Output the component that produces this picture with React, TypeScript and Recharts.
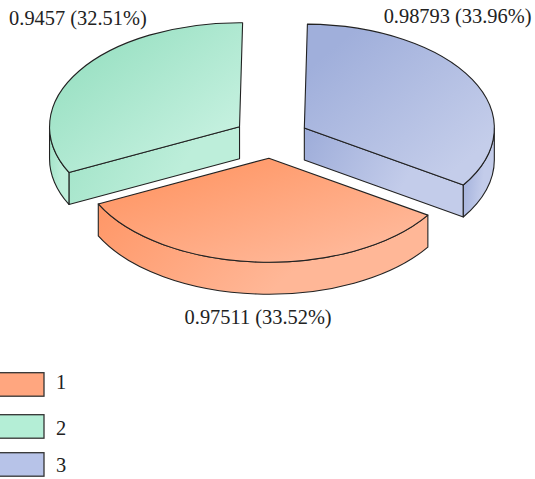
import React from "react";
import { PieChart, Pie, Legend } from "recharts";

const categories = ["1", "2", "3"];
const sliceValues = [0.97511, 0.9457, 0.98793];
const legendColors = ["#FFA67F", "#B4EED6", "#B7C3E8"];
const topShades = [
  ["#FF9766", "#FFB899"],
  ["#98E0C2", "#C6F1E0"],
  ["#A0AFDB", "#C4CDEA"],
];
const wallShades = [
  ["#FF9666", "#FFB797"],
  ["#A0E3C7", "#BDEEDA"],
  ["#9DACD9", "#C3CCEA"],
];

const rows = categories.map((name, i) => ({
  name,
  value: sliceValues[i],
  fill: legendColors[i],
  tone: i,
}));

// Perspective of the tilted disc
const TILT = 0.5474;
const DEPTH = 32;
const EXPLODE = 37.5;
const INK = "#222222";
const FONT = '"Liberation Serif", serif';

const rad = (deg: number) => (deg * Math.PI) / 180;

// Text anchor nudges from the outer rim of each slice, in label order
const labelNudge = [
  [1, 62],
  [-1.2, -46],
  [-14.6, -56],
];
// Rows of the key: top edge of each swatch and baseline of each caption
const keyRows = [372.7, 414.7, 452.7];
const keyBaselines = [389, 435, 472];

function TiltedSlice(props: any) {
  const { cx, cy, outerRadius: r, startAngle, endAngle, midAngle, payload } = props;
  const tone = payload?.tone ?? props.tone ?? 0;
  const rx = r;
  const ry = r * TILT;
  const ox = cx + EXPLODE * Math.cos(rad(midAngle));
  const oy = cy - EXPLODE * TILT * Math.sin(rad(midAngle));
  const rim = (a: number, drop = 0): [number, number] => [
    ox + rx * Math.cos(rad(a)),
    oy - ry * Math.sin(rad(a)) + drop,
  ];
  const arc = (a: number, clockwise: boolean, drop = 0) => {
    const [x, y] = rim(a, drop);
    return `A${rx} ${ry} 0 0 ${clockwise ? 1 : 0} ${x} ${y}`;
  };
  // Split long sweeps so each arc command stays under 180 degrees
  const sweep = (from: number, to: number, clockwise: boolean, drop = 0) => {
    const mid = (from + to) / 2;
    return `${arc(mid, clockwise, drop)} ${arc(to, clockwise, drop)}`;
  };

  const hi = Math.max(startAngle, endAngle);
  const lo = Math.min(startAngle, endAngle);
  const topId = `slice-top-${tone}`;
  const wallId = `slice-wall-${tone}`;

  const walls: string[] = [];
  // Flat cut faces that turn toward the viewer
  const cutFace = (a: number) => {
    const [x, y] = rim(a);
    walls.push(`M${ox} ${oy} L${x} ${y} L${x} ${y + DEPTH} L${ox} ${oy + DEPTH} Z`);
  };
  if (Math.cos(rad(hi)) < -0.1) cutFace(hi);
  if (Math.cos(rad(lo)) > 0.1) cutFace(lo);
  // Curved outer wall on the near half of the disc
  for (let k = -2; k <= 1; k += 1) {
    const a = Math.max(lo, -180 + 360 * k);
    const b = Math.min(hi, 360 * k);
    if (a < b) {
      const [sx, sy] = rim(b);
      const [ex, ey] = rim(a, DEPTH);
      walls.push(
        `M${sx} ${sy} ${sweep(b, a, true)} L${ex} ${ey} ${sweep(a, b, false, DEPTH)} Z`
      );
    }
  }

  const [hx, hy] = rim(hi);
  const top = `M${ox} ${oy} L${hx} ${hy} ${sweep(hi, lo, true)} Z`;

  return (
    <g>
      <defs>
        <linearGradient id={topId} x1="0" y1="0" x2="1" y2="1">
          <stop offset="0.15" stopColor={topShades[tone][0]} />
          <stop offset="0.85" stopColor={topShades[tone][1]} />
        </linearGradient>
        <linearGradient id={wallId} x1="0" y1="0" x2="1" y2="0.3">
          <stop offset="0" stopColor={wallShades[tone][0]} />
          <stop offset="0.75" stopColor={wallShades[tone][1]} />
        </linearGradient>
      </defs>
      {walls.map((d) => (
        <path key={d} d={d} fill={`url(#${wallId})`} stroke={INK} strokeWidth={1.1} strokeLinejoin="round" />
      ))}
      <path d={top} fill={`url(#${topId})`} stroke={INK} strokeWidth={1.1} strokeLinejoin="round" />
    </g>
  );
}

function SliceLabel(props: any) {
  const { cx, cy, midAngle, outerRadius, value, percent, index } = props;
  const reach = outerRadius + EXPLODE;
  const x = cx + reach * Math.cos(rad(midAngle)) + labelNudge[index][0];
  const y = cy - reach * TILT * Math.sin(rad(midAngle)) + labelNudge[index][1];
  return (
    <text x={x} y={y} textAnchor="middle" fontFamily={FONT} fontSize={20.4} fill={INK}>
      {`${value} (${(percent * 100).toFixed(2)}%)`}
    </text>
  );
}

function KeyPanel({ payload }: any) {
  return (
    <svg width={535} height={479} style={{ position: "absolute", left: 0, top: 0, overflow: "visible", pointerEvents: "none" }}>
      {(payload ?? []).map((entry: any, i: number) => (
        <g key={entry.value}>
          <rect x={-6} y={keyRows[i]} width={50} height={23.5} fill={entry.color} stroke="#333333" strokeWidth={1.3} />
          <text x={56} y={keyBaselines[i]} fontFamily={FONT} fontSize={20.4} fill={INK}>
            {entry.value}
          </text>
        </g>
      ))}
    </svg>
  );
}

export default function App() {
  return (
    <div style={{ position: "absolute", left: 0, top: 0, width: 535, height: 479, overflow: "hidden" }}>
      <PieChart width={535} height={479} margin={{ top: 0, right: 0, bottom: 0, left: 0 }}>
        <Pie
          data={rows}
          dataKey="value"
          nameKey="name"
          cx={271.2}
          cy={137.7}
          innerRadius={0}
          outerRadius={190}
          startAngle={-33.2}
          endAngle={-393.2}
          paddingAngle={0}
          isAnimationActive={false}
          shape={TiltedSlice}
          label={SliceLabel}
          labelLine={false}
        />
        <Legend
          content={KeyPanel}
          verticalAlign="top"
          height={0}
          wrapperStyle={{ left: 0, top: 0, width: 535, height: 0 }}
        />
      </PieChart>
    </div>
  );
}
